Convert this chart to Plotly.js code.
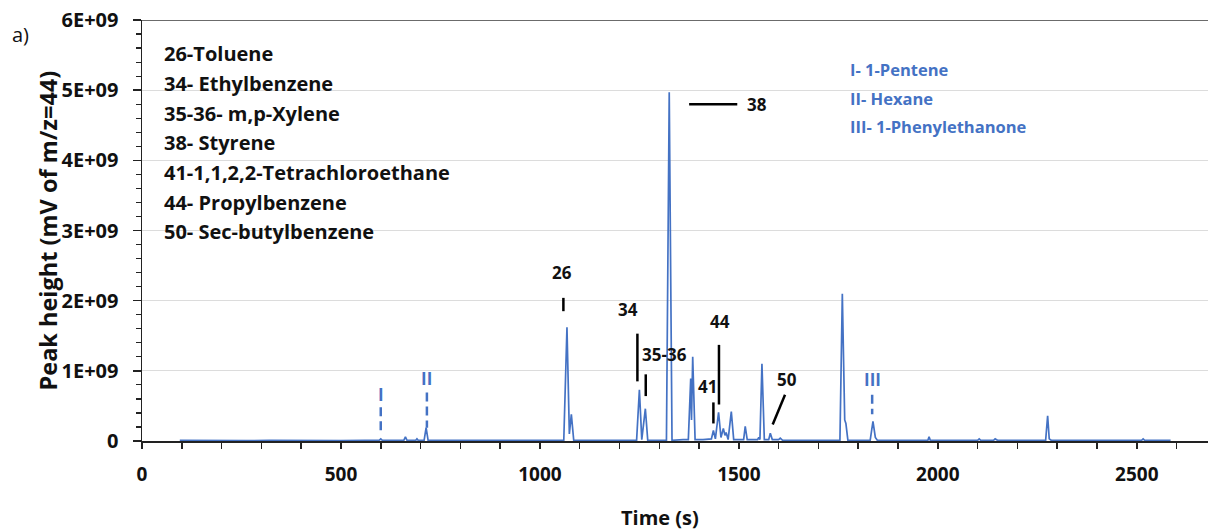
<!DOCTYPE html>
<html>
<head>
<meta charset="utf-8">
<script src="https://cdn.plot.ly/plotly-3.0.1.min.js"></script>
<style>html,body{margin:0;padding:0;background:#fff;}#chart{width:1208px;height:531px;}</style>
</head>
<body>
<div id="chart"></div>
<script>
// Retention time (s)
const timeS = [95,150,200,260,320,380,440,500,560,596,600,604,640,658,662,666,688,691,694,709,714,719,760,820,880,940,1000,1040,1060,1068,1074,1079,1085,1120,1160,1200,1243,1250,1256,1265,1271,1300,1318,1325,1332,1360,1373,1379,1381,1384,1390,1410,1425,1431,1436,1441,1449,1455,1461,1465,1468,1473,1481,1487,1500,1512,1516,1521,1540,1547,1550,1553,1558,1564,1575,1579,1584,1600,1604,1610,1650,1700,1740,1754,1760,1766,1769,1774,1800,1830,1837,1843,1848,1866,1870,1874,1900,1940,1975,1978,1981,2040,2100,2104,2108,2140,2144,2150,2200,2250,2271,2276,2280,2285,2340,2400,2460,2512,2516,2520,2585];
// Peak height, in units of 1E+09 mV
const peakE9 = [0.01,0.005,0.01,0.005,0.01,0.005,0.01,0.005,0.01,0.01,0.03,0.01,0.01,0.01,0.06,0.01,0.01,0.03,0.01,0.01,0.19,0.01,0.01,0.01,0.005,0.01,0.01,0.01,0.01,1.62,0.10,0.38,0.01,0.01,0.01,0.01,0.01,0.73,0.02,0.46,0.01,0.01,0.01,4.97,0.01,0.02,0.02,0.89,0.30,1.20,0.02,0.02,0.03,0.03,0.15,0.03,0.41,0.05,0.18,0.08,0.12,0.02,0.42,0.02,0.02,0.02,0.21,0.02,0.02,0.02,0.05,0.02,1.10,0.02,0.02,0.11,0.02,0.02,0.04,0.01,0.01,0.01,0.01,0.01,2.10,0.30,0.25,0.01,0.01,0.01,0.28,0.05,0.01,0.01,0.02,0.01,0.01,0.01,0.01,0.06,0.01,0.01,0.01,0.03,0.01,0.01,0.03,0.01,0.01,0.01,0.01,0.36,0.03,0.01,0.01,0.01,0.01,0.01,0.03,0.01,0.01];

const yTickVals = [0,1e9,2e9,3e9,4e9,5e9,6e9];
const yTickText = ['0','1E+09','2E+09','3E+09','4E+09','5E+09','6E+09'];

const compoundList = ['26-Toluene','34- Ethylbenzene','35-36- m,p-Xylene','38- Styrene','41-1,1,2,2-Tetrachloroethane','44- Propylbenzene','50- Sec-butylbenzene'];
const blueList = ['I- 1-Pentene','II- Hexane','III- 1-Phenylethanone'];

// Peak labels: text, label time, label height (E9), line from/to
const peakLabels = ['26','34','35-36','41','44','50'];
const peakLabelT = [1056,1222,1312,1420,1453,1621];
const peakLabelV = [2.40,1.87,1.23,0.78,1.71,0.875];
const peakLineX0 = [1059,1245,1266,1436,1450,1616];
const peakLineX1 = [1059,1245,1266,1436,1450,1585];
const peakLineY0 = [2.04,1.53,0.95,0.55,1.37,0.66];
const peakLineY1 = [1.85,0.85,0.64,0.25,0.52,0.235];

const romanLabels = ['I','II','III'];
const romanT = [600,716,1835];
const romanV = [0.66,0.89,0.875];
const romanLineY0 = [0.48,0.69,0.66];
const romanLineY1 = [0.15,0.19,0.38];

const BLUE = '#4472C4';
const FONT = 'Open Sans, Liberation Sans, sans-serif';

const trace = {
  x: timeS,
  y: peakE9.map(v => v * 1e9),
  type: 'scatter',
  mode: 'lines',
  line: {color: BLUE, width: 1.7},
  hoverinfo: 'x+y'
};

const plotH = 421.5;
const annotations = [];
const shapes = [];

compoundList.forEach((t, i) => {
  annotations.push({text: '<b>' + t + '</b>', xref: 'paper', yref: 'paper',
    x: 20/1066, y: 1 - (34 + 29.7*i)/plotH, xanchor: 'left', yanchor: 'middle',
    showarrow: false, font: {family: FONT, size: 20, color: '#111'}});
});
blueList.forEach((t, i) => {
  annotations.push({text: '<b>' + t + '</b>', xref: 'paper', yref: 'paper',
    x: 706/1066, y: 1 - (50 + 28.5*i)/plotH, xanchor: 'left', yanchor: 'middle',
    showarrow: false, font: {family: FONT, size: 16.5, color: BLUE}});
});
peakLabels.forEach((t, i) => {
  annotations.push({text: '<b>' + t + '</b>', x: peakLabelT[i], y: peakLabelV[i]*1e9,
    xanchor: 'center', yanchor: 'middle', showarrow: false,
    font: {family: FONT, size: 17, color: '#111'}});
  shapes.push({type: 'line', x0: peakLineX0[i], x1: peakLineX1[i],
    y0: peakLineY0[i]*1e9, y1: peakLineY1[i]*1e9, line: {color: '#000', width: 2.5}});
});
// Styrene label
annotations.push({text: '<b>38</b>', x: 1516, y: 4.80e9, xanchor: 'left', yanchor: 'middle',
  showarrow: false, font: {family: FONT, size: 17, color: '#111'}});
shapes.push({type: 'line', x0: 1375, x1: 1496, y0: 4.80e9, y1: 4.80e9, line: {color: '#000', width: 2.5}});

romanLabels.forEach((t, i) => {
  annotations.push({text: '<b>' + t + '</b>', x: romanT[i], y: romanV[i]*1e9,
    xanchor: 'center', yanchor: 'middle', showarrow: false,
    font: {family: FONT, size: 17, color: BLUE}});
  shapes.push({type: 'line', x0: romanT[i], x1: romanT[i], y0: romanLineY0[i]*1e9, y1: romanLineY1[i]*1e9,
    line: {color: BLUE, width: 2.5, dash: '9px,5px'}});
});

// top frame line
shapes.push({type: 'line', xref: 'paper', x0: 0, x1: 1, y0: 6e9, y1: 6e9, line: {color: '#3a3a3a', width: 1.5}});

// axis titles & panel label
annotations.push({text: '<b>Peak height (mV of m/z=44)</b>', xref: 'paper', yref: 'paper',
  x: 0, y: 0.5, xshift: -95, xanchor: 'center', yanchor: 'middle', textangle: -90,
  showarrow: false, font: {family: FONT, size: 23.5, color: '#111'}});
annotations.push({text: '<b>Time (s)</b>', xref: 'paper', yref: 'paper',
  x: 518/1066, y: 0, yshift: -76.5, xanchor: 'center', yanchor: 'middle',
  showarrow: false, font: {family: FONT, size: 20, color: '#111'}});
annotations.push({text: 'a)', xref: 'paper', yref: 'paper',
  x: 0, y: 1, xshift: -132, yshift: -14, xanchor: 'left', yanchor: 'middle',
  showarrow: false, font: {family: FONT, size: 20, color: '#111'}});

const layout = {
  width: 1208, height: 531,
  margin: {l: 142, r: 0, t: 20, b: 89.5},
  paper_bgcolor: '#fff', plot_bgcolor: '#fff',
  showlegend: false,
  font: {family: FONT, color: '#111'},
  xaxis: {
    range: [0, 2679], tick0: 0, dtick: 500, ticks: 'outside', ticklen: 6, tickwidth: 1.5,
    tickcolor: '#222', showline: true, linecolor: '#222', linewidth: 1.5,
    showgrid: false, zeroline: false, ticklabelstandoff: 10,
    tickfont: {family: FONT, size: 19, color: '#111', weight: 'bold'},
    minor: {dtick: 100, ticks: 'outside', ticklen: 6, tickwidth: 1.5, tickcolor: '#222', showgrid: false}
  },
  yaxis: {
    range: [0, 6e9], tickmode: 'array', tickvals: yTickVals, ticktext: yTickText,
    ticks: 'outside', ticklen: 8, tickwidth: 1.5, tickcolor: '#222',
    showline: true, linecolor: '#222', linewidth: 1.5,
    showgrid: true, gridcolor: '#dcdcdc', gridwidth: 1, zeroline: false,
    ticklabelstandoff: 10,
    tickfont: {family: FONT, size: 20, color: '#111', weight: 'bold'},
    minor: {dtick: 2e8, ticks: 'outside', ticklen: 5, tickwidth: 1.2, tickcolor: '#222', showgrid: false}
  },
  annotations: annotations,
  shapes: shapes
};

Plotly.newPlot('chart', [trace], layout, {displayModeBar: false, staticPlot: true});
</script>
</body>
</html>
